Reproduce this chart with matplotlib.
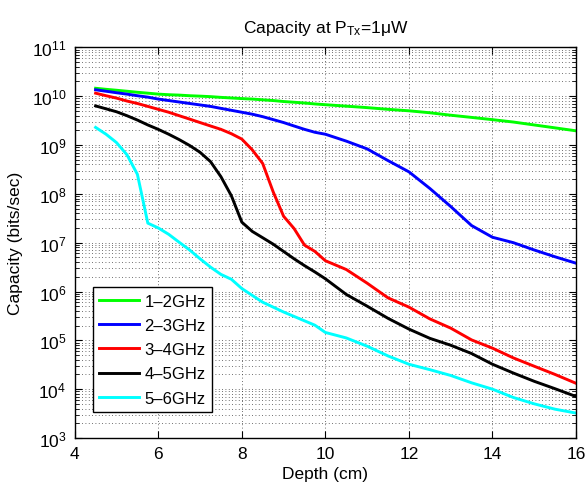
"""Capacity vs depth, log-scale, one curve per frequency band."""

import matplotlib

matplotlib.use("Agg")

import matplotlib.pyplot as plt
from matplotlib.ticker import LogLocator, FixedLocator, LogFormatterMathtext

plt.rcParams["font.family"] = ["Liberation Sans", "DejaVu Sans"]
plt.rcParams["mathtext.fontset"] = "custom"
plt.rcParams["mathtext.rm"] = "Liberation Sans"
plt.rcParams["mathtext.it"] = "Liberation Sans:italic"

depth_cm = [4.5, 4.75, 5.0, 5.25, 5.5, 5.75, 6.0, 6.25, 6.5, 6.75, 7.0, 7.25,
            7.5, 7.75, 8.0, 8.25, 8.5, 8.75, 9.0, 9.25, 9.5, 9.75, 10.0, 10.5,
            11.0, 11.5, 12.0, 12.5, 13.0, 13.5, 14.0, 14.5, 15.0, 15.5, 16.0]

cap_1_2ghz = [1.45e10, 1.38e10, 1.32e10, 1.26e10, 1.20e10, 1.15e10, 1.10e10,
              1.07e10, 1.05e10, 1.02e10, 1.00e10, 9.77e9, 9.44e9, 9.18e9,
              8.91e9, 8.71e9, 8.41e9, 8.13e9, 7.76e9, 7.50e9, 7.24e9, 6.92e9,
              6.68e9, 6.24e9, 5.82e9, 5.37e9, 5.01e9, 4.57e9, 4.07e9, 3.67e9,
              3.30e9, 2.95e9, 2.57e9, 2.24e9, 1.95e9]

cap_2_3ghz = [1.35e10, 1.26e10, 1.175e10, 1.10e10, 1.02e10, 9.55e9, 8.71e9,
              8.13e9, 7.59e9, 7.08e9, 6.61e9, 6.17e9, 5.62e9, 5.13e9, 4.68e9,
              4.27e9, 3.80e9, 3.31e9, 2.88e9, 2.45e9, 2.09e9, 1.82e9, 1.66e9,
              1.20e9, 8.32e8, 4.79e8, 2.82e8, 1.29e8, 5.50e7, 2.24e7, 1.29e7,
              1.00e7, 7.08e6, 5.13e6, 3.80e6]

cap_3_4ghz = [1.15e10, 1.02e10, 9.12e9, 7.94e9, 7.08e9, 6.17e9, 5.37e9, 4.68e9,
              3.98e9, 3.39e9, 2.88e9, 2.45e9, 2.09e9, 1.70e9, 1.32e9, 7.94e8,
              4.17e8, 1.10e8, 3.47e7, 1.95e7, 8.91e6, 6.61e6, 4.27e6, 2.82e6,
              1.48e6, 7.41e5, 4.79e5, 2.75e5, 1.78e5, 1.02e5, 6.92e4, 4.37e4,
              2.95e4, 2.00e4, 1.32e4]

cap_4_5ghz = [6.31e9, 5.50e9, 4.79e9, 3.98e9, 3.24e9, 2.57e9, 2.09e9, 1.66e9,
              1.29e9, 9.77e8, 7.08e8, 4.57e8, 2.24e8, 9.12e7, 2.63e7, 1.70e7,
              1.26e7, 9.33e6, 6.61e6, 4.68e6, 3.39e6, 2.51e6, 1.82e6, 8.71e5,
              5.01e5, 2.82e5, 1.70e5, 1.10e5, 7.94e4, 5.37e4, 3.24e4, 2.14e4,
              1.45e4, 1.02e4, 7.08e3]

cap_5_6ghz = [2.29e9, 1.66e9, 1.12e9, 6.31e8, 2.51e8, 2.51e7, 2.00e7, 1.48e7,
              1.02e7, 7.08e6, 4.68e6, 3.16e6, 2.24e6, 1.78e6, 1.15e6, 8.32e5,
              6.03e5, 4.79e5, 3.80e5, 3.09e5, 2.51e5, 2.04e5, 1.45e5, 1.12e5,
              7.59e4, 4.79e4, 3.24e4, 2.51e4, 1.91e4, 1.35e4, 1.00e4, 6.76e3,
              5.01e3, 3.89e3, 3.24e3]

labels = ["1\u20132GHz", "2\u20133GHz", "3\u20134GHz", "4\u20135GHz", "5\u20136GHz"]
colors = ["#00ff00", "#0000ff", "#ff0000", "#000000", "#00ffff"]
series = [cap_1_2ghz, cap_2_3ghz, cap_3_4ghz, cap_4_5ghz, cap_5_6ghz]
x_ticks = [4, 6, 8, 10, 12, 14, 16]
y_ticks = [1e3, 1e4, 1e5, 1e6, 1e7, 1e8, 1e9, 1e10, 1e11]

fig = plt.figure(figsize=(5.87, 4.85), dpi=100)
ax = fig.add_axes([0.1273, 0.0948, 0.854, 0.8056])

for vals, lab, col in zip(series, labels, colors):
    ax.plot(depth_cm, vals, color=col, lw=2.1, label=lab)

ax.set_yscale("log")
ax.set_xlim(4, 16)
ax.set_ylim(1e3, 1e11)
ax.xaxis.set_major_locator(FixedLocator(x_ticks))
ax.yaxis.set_major_locator(FixedLocator(y_ticks))
ax.yaxis.set_major_formatter(LogFormatterMathtext())
ax.yaxis.set_minor_locator(LogLocator(base=10, subs=range(2, 10), numticks=20))

grid_style = dict(color="0.25", linestyle=(0, (1, 3)), linewidth=0.6)
ax.grid(True, which="major", axis="both", **grid_style)
ax.grid(True, which="minor", axis="y", **grid_style)

ax.tick_params(which="both", direction="in", top=True, right=True,
               labelsize=12.5, pad=6)
ax.tick_params(which="major", length=5, width=0.8)
ax.tick_params(which="minor", length=3, width=0.6)
for sp in ax.spines.values():
    sp.set_linewidth(1.0)

ax.set_xlabel("Depth (cm)", fontsize=12.5, labelpad=3)
ax.set_ylabel("Capacity (bits/sec)", fontsize=12.5, labelpad=6)
ax.set_title("Capacity at P$_{\\mathrm{Tx}}$=1\u03bcW", fontsize=12.5, pad=11)

leg = ax.legend(loc="lower left", bbox_to_anchor=(0.036, 0.066),
                borderaxespad=0, fancybox=False, framealpha=1,
                edgecolor="black", fontsize=12, handlelength=2.4,
                handletextpad=0.3, labelspacing=0.55, borderpad=0.4)
leg.get_frame().set_linewidth(1.0)

fig.savefig("out.png", dpi=100)
